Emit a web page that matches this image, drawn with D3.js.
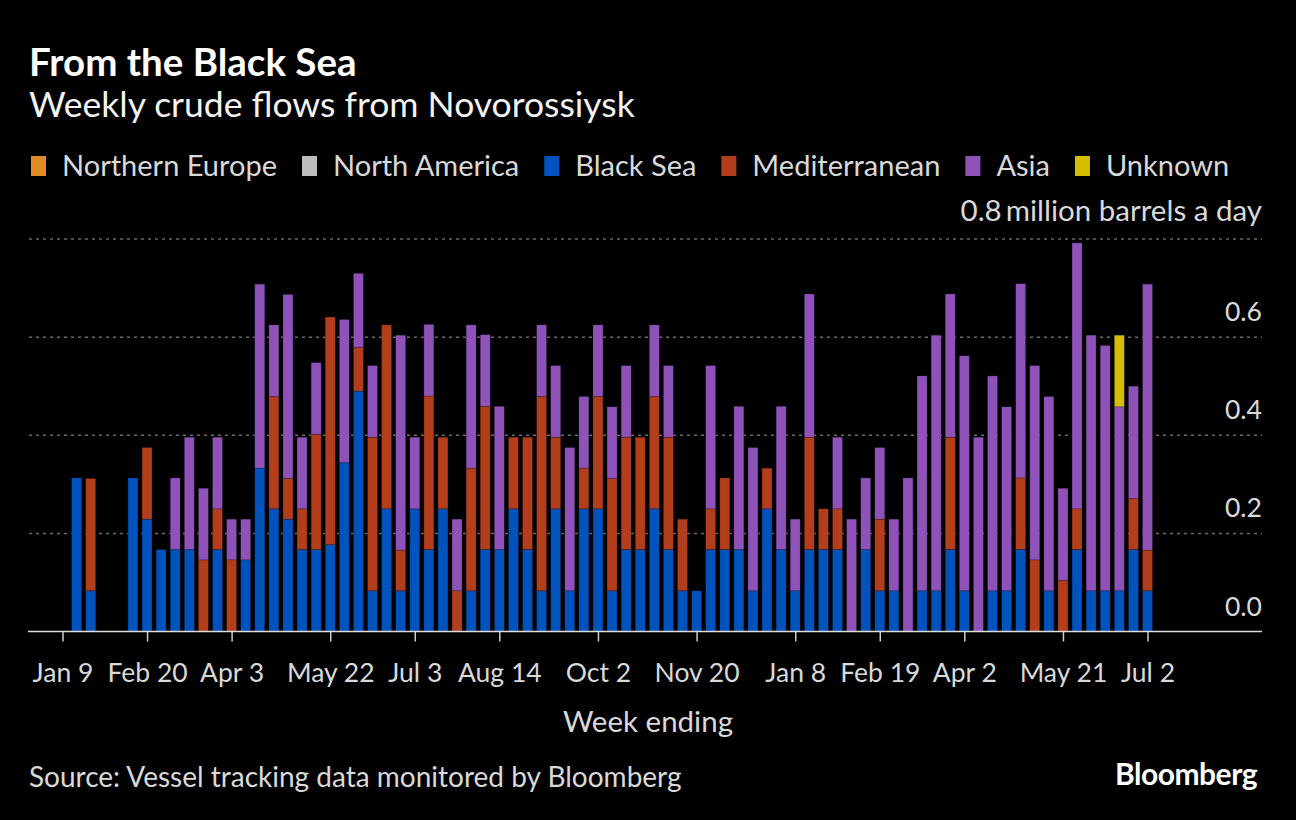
<!DOCTYPE html>
<html>
<head>
<meta charset="utf-8">
<script src="https://cdn.jsdelivr.net/npm/d3@7"></script>
<style>
  body { margin: 0; background: #000; }
  svg { display: block; font-family: Lato, "Noto Sans", sans-serif; }
</style>
</head>
<body>
<div id="chart"></div>
<script>
// week ending dates, Jan 9 2022 .. Jul 2 2023 (Sundays)
var weeks = d3.timeWeek.range(new Date(2022, 0, 9), new Date(2023, 6, 3));

var seriesNames = ["Northern Europe", "North America", "Black Sea", "Mediterranean", "Asia", "Unknown"];
var seriesColors = ["#e08c26", "#bdbdbd", "#0052bd", "#b33e1c", "#8f52b9", "#d6bd00"];

var northernEurope = weeks.map(function() { return 0; });
var northAmerica = weeks.map(function() { return 0; });
var blackSea = [0, 0.313, 0.083, 0, 0, 0.313, 0.229, 0.167, 0.167, 0.167,
  0, 0.167, 0, 0.146, 0.333, 0.25, 0.229, 0.167, 0.167, 0.177,
  0.344, 0.49, 0.083, 0.25, 0.083, 0.25, 0.167, 0.25, 0, 0.083,
  0.167, 0.167, 0.25, 0.167, 0.083, 0.25, 0.083, 0.25, 0.25, 0.083,
  0.167, 0.167, 0.25, 0.167, 0.083, 0.083, 0.167, 0.167, 0.167, 0.083,
  0.25, 0.167, 0.083, 0.167, 0.167, 0.167, 0, 0.167, 0.083, 0.083,
  0, 0.083, 0.083, 0.167, 0.083, 0, 0.083, 0.083, 0.167, 0,
  0.083, 0, 0.167, 0.083, 0.083, 0.083, 0.167, 0.083];
var mediterranean = [0, 0, 0.229, 0, 0, 0, 0.146, 0, 0, 0,
  0.146, 0.083, 0.146, 0, 0, 0.229, 0.083, 0.083, 0.235, 0.464,
  0, 0.089, 0.313, 0.375, 0.083, 0, 0.313, 0.146, 0.083, 0.25,
  0.292, 0, 0.146, 0.229, 0.396, 0.146, 0, 0.083, 0.229, 0.229,
  0.229, 0.229, 0.229, 0.229, 0.146, 0, 0.083, 0.146, 0, 0,
  0.083, 0, 0, 0.229, 0.083, 0.083, 0, 0, 0.146, 0,
  0, 0, 0, 0.229, 0, 0, 0, 0, 0.146, 0.146,
  0, 0.104, 0.083, 0, 0, 0, 0.104, 0.083];
var asia = [0, 0, 0, 0, 0, 0, 0, 0, 0.146, 0.229,
  0.146, 0.146, 0.083, 0.083, 0.375, 0.146, 0.375, 0.146, 0.146, 0,
  0.292, 0.151, 0.146, 0, 0.438, 0.146, 0.146, 0, 0.146, 0.292,
  0.146, 0.292, 0, 0, 0.146, 0.146, 0.292, 0.146, 0.146, 0.146,
  0.146, 0, 0.146, 0.146, 0, 0, 0.292, 0, 0.292, 0.292,
  0, 0.292, 0.146, 0.292, 0, 0.146, 0.229, 0.146, 0.146, 0.146,
  0.313, 0.438, 0.521, 0.292, 0.479, 0.396, 0.438, 0.375, 0.396, 0.396,
  0.396, 0.188, 0.542, 0.521, 0.5, 0.375, 0.229, 0.542];
var unknown = weeks.map(function(d, i) { return i === 75 ? 0.146 : 0; });

var tickDates = [new Date(2022, 0, 9), new Date(2022, 1, 20), new Date(2022, 3, 3),
  new Date(2022, 4, 22), new Date(2022, 6, 3), new Date(2022, 7, 14), new Date(2022, 9, 2),
  new Date(2022, 10, 20), new Date(2023, 0, 8), new Date(2023, 1, 19), new Date(2023, 3, 2),
  new Date(2023, 4, 21), new Date(2023, 6, 2)];
var yTicks = [0, 0.2, 0.4, 0.6, 0.8];

var W = 1296, H = 820;
var textColor = "#d9d9d9";

// table for d3.stack
var allSeries = [northernEurope, northAmerica, blackSea, mediterranean, asia, unknown];
var table = weeks.map(function(d, i) {
  var row = { date: d };
  seriesNames.forEach(function(n, k) { row[n] = allSeries[k][i]; });
  return row;
});
var stacked = d3.stack().keys(seriesNames)(table);

var svg = d3.select("#chart").append("svg")
  .attr("width", W)
  .attr("height", H);

svg.append("rect").attr("width", W).attr("height", H).attr("fill", "#000");

var x = d3.scaleTime()
  .domain([weeks[0], weeks[weeks.length - 1]])
  .range([62.5, 1147.5]);
var y = d3.scaleLinear().domain([0, 0.8]).range([631.5, 239]);
var barW = 10;

// title block
svg.append("text").attr("x", 29).attr("y", 76)
  .attr("fill", "#fff").attr("font-size", 38.5).attr("font-weight", 700)
  .text("From the Black Sea");
svg.append("text").attr("x", 29).attr("y", 117)
  .attr("fill", "#f2f2f2").attr("font-size", 35.5)
  .text("Weekly crude flows from Novorossiysk");

// legend
var lx = 31;
seriesNames.forEach(function(n, k) {
  svg.append("rect").attr("x", lx).attr("y", 156).attr("width", 15).attr("height", 20)
    .attr("fill", seriesColors[k]);
  var t = svg.append("text").attr("x", lx + 31).attr("y", 176)
    .attr("fill", textColor).attr("font-size", 29).text(n);
  lx += 31 + t.node().getComputedTextLength() + 25;
});

// gridlines + y labels
var grid = svg.append("g");
grid.selectAll("line").data(yTicks.filter(function(d) { return d > 0; }))
  .enter().append("line")
  .attr("x1", 29).attr("x2", 1262)
  .attr("y1", function(d) { return y(d); }).attr("y2", function(d) { return y(d); })
  .attr("stroke", "#6a6a6a").attr("stroke-width", 1.5).attr("stroke-dasharray", "3,4");

svg.append("g").selectAll("text").data(yTicks.filter(function(d) { return d < 0.8; }))
  .enter().append("text")
  .attr("x", 1262).attr("y", function(d) { return y(d) - 16; })
  .attr("text-anchor", "end").attr("fill", textColor).attr("font-size", 26.5)
  .text(function(d) { return d3.format(".1f")(d); });
var topLabel = svg.append("text")
  .attr("x", 1262).attr("y", y(0.8) - 18)
  .attr("text-anchor", "end").attr("fill", textColor).attr("font-size", 29.5);
topLabel.append("tspan").text(d3.format(".1f")(0.8));
topLabel.append("tspan").attr("dx", 4).text("million barrels a day");

// bars
svg.append("g").selectAll("g").data(stacked).enter().append("g")
  .attr("fill", function(d, k) { return seriesColors[k]; })
  .selectAll("rect").data(function(d) { return d.filter(function(s) { return s[1] > s[0]; }); })
  .enter().append("rect")
  .attr("x", function(d) { return x(d.data.date) - barW / 2; })
  .attr("width", barW)
  .attr("y", function(d) { return y(d[1]); })
  .attr("height", function(d) { return y(d[0]) - y(d[1]); })
  .attr("stroke", "rgba(0,0,0,0.35)").attr("stroke-width", 0.6);

// x axis
var xAxis = d3.axisBottom(x).tickValues(tickDates).tickSize(10).tickSizeOuter(0)
  .tickFormat(d3.timeFormat("%b %-d"));
var ax = svg.append("g").attr("transform", "translate(0,631.5)").call(xAxis);
ax.select(".domain").remove();
ax.selectAll(".tick line").attr("stroke", "#cfcfcf").attr("stroke-width", 1.5);
ax.selectAll(".tick text").attr("fill", textColor).attr("font-size", 26.5)
  .attr("font-family", "Lato, sans-serif").attr("dy", 0).attr("y", 50);
svg.append("line").attr("x1", 28).attr("x2", 1262).attr("y1", 631.5).attr("y2", 631.5)
  .attr("stroke", "#dcdcdc").attr("stroke-width", 1.5);

svg.append("text").attr("x", 648).attr("y", 732).attr("text-anchor", "middle")
  .attr("fill", textColor).attr("font-size", 29.5).text("Week ending");

// footer
svg.append("text").attr("x", 29).attr("y", 787)
  .attr("fill", textColor).attr("font-size", 28)
  .text("Source: Vessel tracking data monitored by Bloomberg");
svg.append("text").attr("x", 1257).attr("y", 785).attr("text-anchor", "end")
  .attr("fill", "#fff").attr("font-size", 30).attr("font-weight", 700)
  .attr("letter-spacing", -0.5)
  .text("Bloomberg");
</script>
</body>
</html>
